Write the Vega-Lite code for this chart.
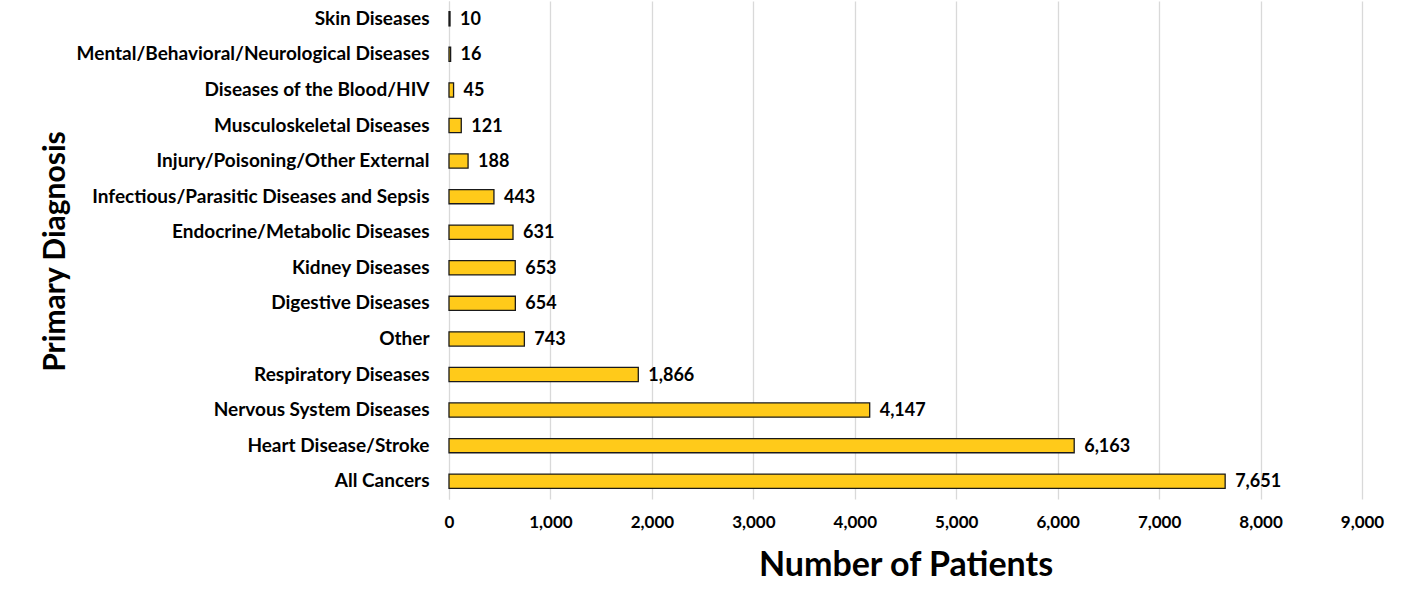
{
  "$schema": "https://vega.github.io/schema/vega-lite/v6.json",
  "width": 913,
  "height": 498,
  "autosize": {"type": "none"},
  "padding": {"left": 449, "top": 1, "right": 43, "bottom": 106},
  "background": "white",
  "config": {
    "view": {"stroke": null},
    "font": "Lato"
  },
  "data": {
    "values": [
      {"diagnosis": "Skin Diseases", "patients": 10},
      {"diagnosis": "Mental/Behavioral/Neurological Diseases", "patients": 16},
      {"diagnosis": "Diseases of the Blood/HIV", "patients": 45},
      {"diagnosis": "Musculoskeletal Diseases", "patients": 121},
      {"diagnosis": "Injury/Poisoning/Other External", "patients": 188},
      {"diagnosis": "Infectious/Parasitic Diseases and Sepsis", "patients": 443},
      {"diagnosis": "Endocrine/Metabolic Diseases", "patients": 631},
      {"diagnosis": "Kidney Diseases", "patients": 653},
      {"diagnosis": "Digestive Diseases", "patients": 654},
      {"diagnosis": "Other", "patients": 743},
      {"diagnosis": "Respiratory Diseases", "patients": 1866},
      {"diagnosis": "Nervous System Diseases", "patients": 4147},
      {"diagnosis": "Heart Disease/Stroke", "patients": 6163},
      {"diagnosis": "All Cancers", "patients": 7651}
    ]
  },
  "encoding": {
    "y": {
      "field": "diagnosis",
      "type": "nominal",
      "sort": null,
      "scale": {"paddingInner": 0.6, "paddingOuter": 0.3},
      "axis": {
        "title": "Primary Diagnosis",
        "titleFont": "Lato",
        "titleFontSize": 30,
        "titleFontWeight": "bold",
        "titleColor": "black",
        "titleAngle": -90,
        "titleX": -394,
        "titleY": 250,
        "titleAlign": "center",
        "titleBaseline": "middle",
        "labelFont": "Lato",
        "labelFontSize": 19,
        "labelFontWeight": "bold",
        "labelColor": "black",
        "labelPadding": 20,
        "labelLimit": 430,
        "ticks": false,
        "domain": true,
        "domainColor": "#d9d9d9",
        "domainWidth": 1
      }
    },
    "x": {
      "field": "patients",
      "type": "quantitative",
      "scale": {"domain": [0, 9000], "nice": false},
      "axis": {
        "title": "Number of Patients",
        "titleFont": "Lato",
        "titleFontSize": 34,
        "titleFontWeight": "bold",
        "titleColor": "black",
        "titleY": 76,
        "titleBaseline": "alphabetic",
        "values": [0, 1000, 2000, 3000, 4000, 5000, 6000, 7000, 8000, 9000],
        "labelExpr": "format(datum.value, ',.0f')",
        "labelFont": "Lato",
        "labelFontSize": 17,
        "labelFontWeight": "bold",
        "labelColor": "black",
        "labelPadding": 15,
        "labelAlign": "center",
        "labelFlush": false,
        "labelOverlap": false,
        "ticks": false,
        "domain": false,
        "grid": true,
        "gridColor": "#d9d9d9",
        "gridWidth": 1.3
      }
    }
  },
  "layer": [
    {
      "mark": {"type": "bar", "color": "#FFCA1A", "stroke": "#1a1a1a", "strokeWidth": 1.3}
    },
    {
      "mark": {"type": "text", "align": "left", "baseline": "middle", "dx": 10, "dy": 1, "font": "Lato", "fontSize": 18, "fontWeight": "bold", "color": "black"},
      "encoding": {
        "text": {"field": "patients", "type": "quantitative", "format": ",.0f"}
      }
    }
  ]
}
